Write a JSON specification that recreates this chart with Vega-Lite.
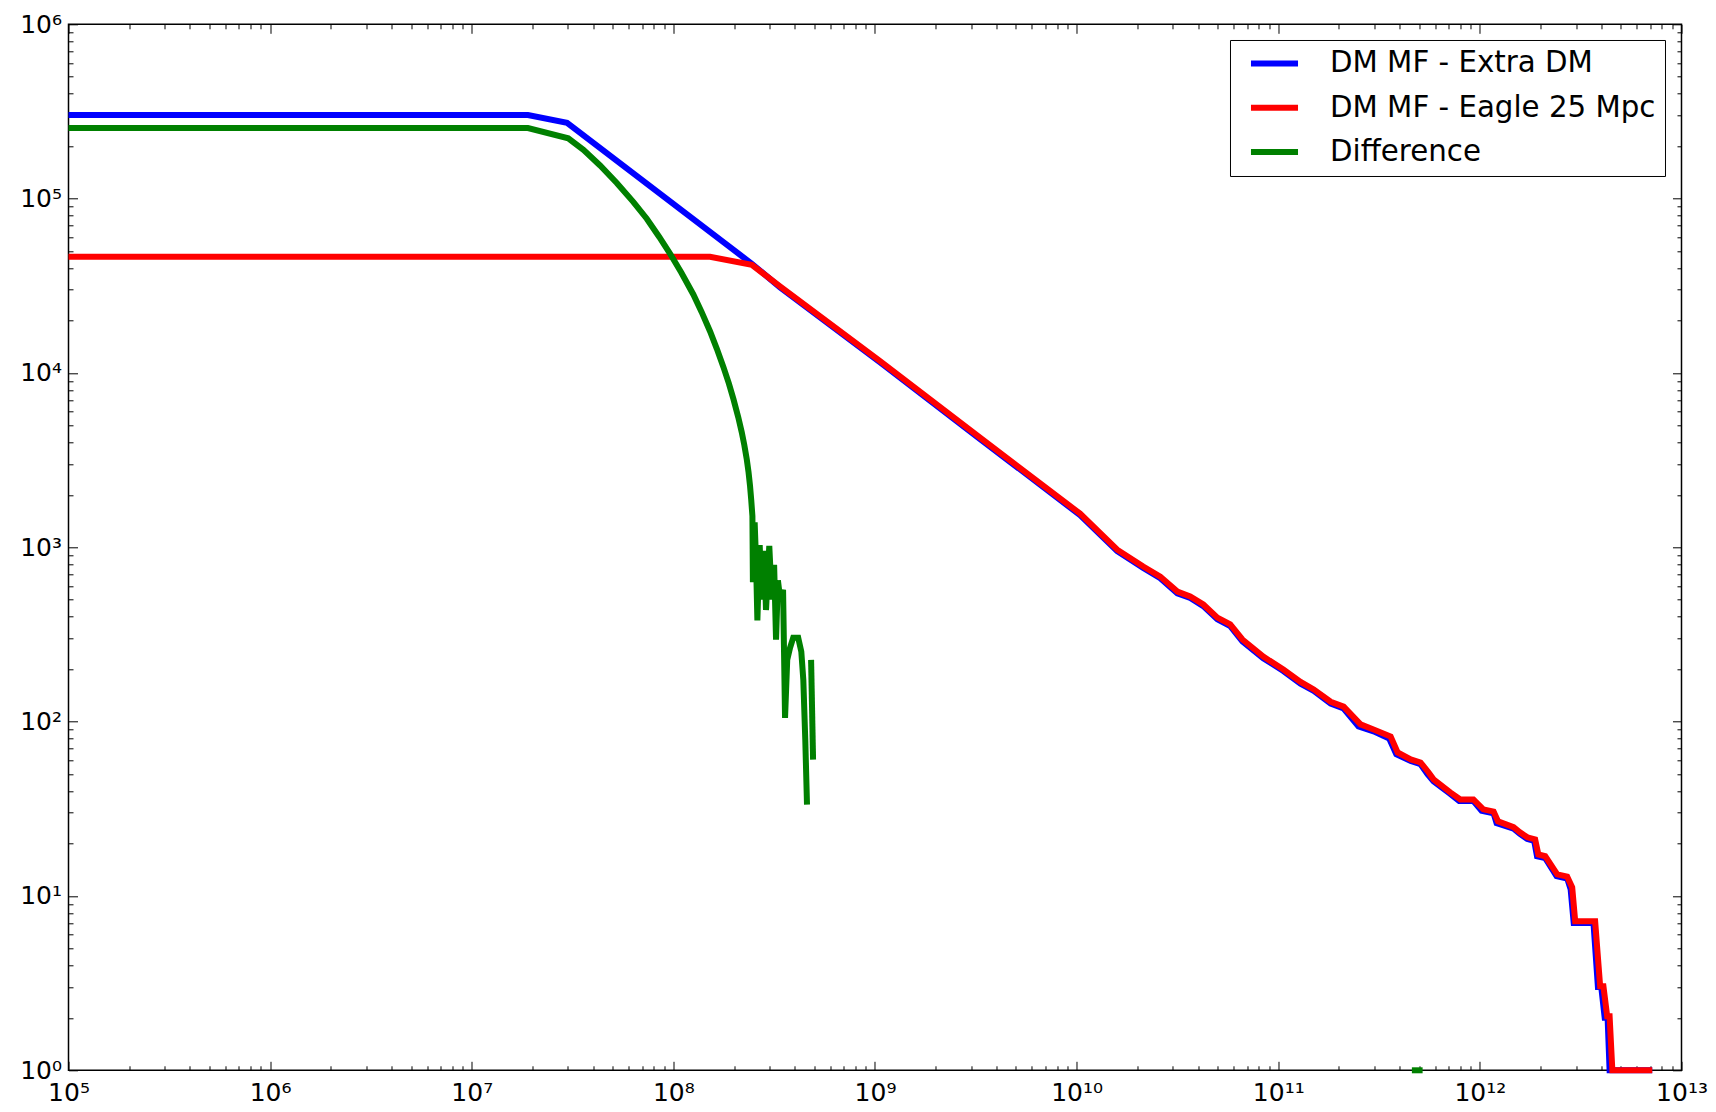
{
  "$schema": "https://vega.github.io/schema/vega-lite/v6.json",
  "width": 1613,
  "height": 1046,
  "autosize": {"type": "none"},
  "padding": {"left": 68.5, "top": 24.3, "right": 35, "bottom": 42},
  "background": "white",
  "config": {
    "view": {"stroke": "black", "strokeWidth": 1.5},
    "font": "DejaVu Sans",
    "axis": {"domain": false, "grid": false, "tickColor": "black", "tickWidth": 1, "labelColor": "black", "labelFont": "DejaVu Sans", "labelFontSize": 25, "title": null, "labelOverlap": false, "labelFlush": false, "labelBound": false}
  },
  "datasets": {
    "blue": [
      {"x": 1e5, "y": 302000, "series": "DM MF - Extra DM"},
      {"x": 1.9e7, "y": 302000, "series": "DM MF - Extra DM"},
      {"x": 2.97e7, "y": 272000, "series": "DM MF - Extra DM"},
      {"x": 2.45e8, "y": 42300, "series": "DM MF - Extra DM"},
      {"x": 3.38e8, "y": 31000, "series": "DM MF - Extra DM"},
      {"x": 1.06e9, "y": 11500, "series": "DM MF - Extra DM"},
      {"x": 3.32e9, "y": 4180, "series": "DM MF - Extra DM"},
      {"x": 1.04e10, "y": 1530, "series": "DM MF - Extra DM"},
      {"x": 1.59e10, "y": 950, "series": "DM MF - Extra DM"},
      {"x": 2.14e10, "y": 762, "series": "DM MF - Extra DM"},
      {"x": 2.6e10, "y": 665, "series": "DM MF - Extra DM"},
      {"x": 3.16e10, "y": 545, "series": "DM MF - Extra DM"},
      {"x": 3.66e10, "y": 512, "series": "DM MF - Extra DM"},
      {"x": 4.25e10, "y": 460, "series": "DM MF - Extra DM"},
      {"x": 4.99e10, "y": 386, "series": "DM MF - Extra DM"},
      {"x": 5.78e10, "y": 353, "series": "DM MF - Extra DM"},
      {"x": 6.64e10, "y": 289, "series": "DM MF - Extra DM"},
      {"x": 8.43e10, "y": 231, "series": "DM MF - Extra DM"},
      {"x": 1.06e11, "y": 195, "series": "DM MF - Extra DM"},
      {"x": 1.29e11, "y": 165, "series": "DM MF - Extra DM"},
      {"x": 1.5e11, "y": 150, "series": "DM MF - Extra DM"},
      {"x": 1.82e11, "y": 127, "series": "DM MF - Extra DM"},
      {"x": 2.11e11, "y": 119, "series": "DM MF - Extra DM"},
      {"x": 2.5e11, "y": 94, "series": "DM MF - Extra DM"},
      {"x": 2.97e11, "y": 88, "series": "DM MF - Extra DM"},
      {"x": 3.55e11, "y": 80, "series": "DM MF - Extra DM"},
      {"x": 3.85e11, "y": 65, "series": "DM MF - Extra DM"},
      {"x": 4.54e11, "y": 59.5, "series": "DM MF - Extra DM"},
      {"x": 5.08e11, "y": 57, "series": "DM MF - Extra DM"},
      {"x": 5.5e11, "y": 50, "series": "DM MF - Extra DM"},
      {"x": 5.89e11, "y": 45.5, "series": "DM MF - Extra DM"},
      {"x": 7.13e11, "y": 38.5, "series": "DM MF - Extra DM"},
      {"x": 7.9e11, "y": 35, "series": "DM MF - Extra DM"},
      {"x": 9.29e11, "y": 35, "series": "DM MF - Extra DM"},
      {"x": 1.02e12, "y": 30.8, "series": "DM MF - Extra DM"},
      {"x": 1.17e12, "y": 29.8, "series": "DM MF - Extra DM"},
      {"x": 1.21e12, "y": 26.2, "series": "DM MF - Extra DM"},
      {"x": 1.47e12, "y": 24.3, "series": "DM MF - Extra DM"},
      {"x": 1.58e12, "y": 22.7, "series": "DM MF - Extra DM"},
      {"x": 1.72e12, "y": 21.2, "series": "DM MF - Extra DM"},
      {"x": 1.86e12, "y": 20.7, "series": "DM MF - Extra DM"},
      {"x": 1.92e12, "y": 16.9, "series": "DM MF - Extra DM"},
      {"x": 2.11e12, "y": 16.5, "series": "DM MF - Extra DM"},
      {"x": 2.4e12, "y": 13, "series": "DM MF - Extra DM"},
      {"x": 2.71e12, "y": 12.6, "series": "DM MF - Extra DM"},
      {"x": 2.82e12, "y": 10.9, "series": "DM MF - Extra DM"},
      {"x": 2.92e12, "y": 7.0, "series": "DM MF - Extra DM"},
      {"x": 3.66e12, "y": 7.0, "series": "DM MF - Extra DM"},
      {"x": 3.85e12, "y": 3.0, "series": "DM MF - Extra DM"},
      {"x": 4.0e12, "y": 3.0, "series": "DM MF - Extra DM"},
      {"x": 4.16e12, "y": 2.0, "series": "DM MF - Extra DM"},
      {"x": 4.3e12, "y": 2.0, "series": "DM MF - Extra DM"},
      {"x": 4.4e12, "y": 1, "series": "DM MF - Extra DM"},
      {"x": 7.16e12, "y": 1, "series": "DM MF - Extra DM"}
    ],
    "red": [
      {"x": 1e5, "y": 46400, "series": "DM MF - Eagle 25 Mpc"},
      {"x": 1.52e8, "y": 46400, "series": "DM MF - Eagle 25 Mpc"},
      {"x": 2.45e8, "y": 41700, "series": "DM MF - Eagle 25 Mpc"},
      {"x": 3.38e8, "y": 31400, "series": "DM MF - Eagle 25 Mpc"},
      {"x": 1.06e9, "y": 11700, "series": "DM MF - Eagle 25 Mpc"},
      {"x": 3.32e9, "y": 4260, "series": "DM MF - Eagle 25 Mpc"},
      {"x": 1.04e10, "y": 1560, "series": "DM MF - Eagle 25 Mpc"},
      {"x": 1.59e10, "y": 968, "series": "DM MF - Eagle 25 Mpc"},
      {"x": 2.14e10, "y": 776, "series": "DM MF - Eagle 25 Mpc"},
      {"x": 2.6e10, "y": 679, "series": "DM MF - Eagle 25 Mpc"},
      {"x": 3.16e10, "y": 557, "series": "DM MF - Eagle 25 Mpc"},
      {"x": 3.66e10, "y": 522, "series": "DM MF - Eagle 25 Mpc"},
      {"x": 4.25e10, "y": 470, "series": "DM MF - Eagle 25 Mpc"},
      {"x": 4.99e10, "y": 395, "series": "DM MF - Eagle 25 Mpc"},
      {"x": 5.78e10, "y": 361, "series": "DM MF - Eagle 25 Mpc"},
      {"x": 6.64e10, "y": 296, "series": "DM MF - Eagle 25 Mpc"},
      {"x": 8.43e10, "y": 236, "series": "DM MF - Eagle 25 Mpc"},
      {"x": 1.06e11, "y": 199, "series": "DM MF - Eagle 25 Mpc"},
      {"x": 1.29e11, "y": 169, "series": "DM MF - Eagle 25 Mpc"},
      {"x": 1.5e11, "y": 153, "series": "DM MF - Eagle 25 Mpc"},
      {"x": 1.82e11, "y": 130, "series": "DM MF - Eagle 25 Mpc"},
      {"x": 2.11e11, "y": 122, "series": "DM MF - Eagle 25 Mpc"},
      {"x": 2.56e11, "y": 96.4, "series": "DM MF - Eagle 25 Mpc"},
      {"x": 2.97e11, "y": 90.2, "series": "DM MF - Eagle 25 Mpc"},
      {"x": 3.61e11, "y": 82.2, "series": "DM MF - Eagle 25 Mpc"},
      {"x": 3.91e11, "y": 66.5, "series": "DM MF - Eagle 25 Mpc"},
      {"x": 4.54e11, "y": 60.7, "series": "DM MF - Eagle 25 Mpc"},
      {"x": 5.08e11, "y": 58.3, "series": "DM MF - Eagle 25 Mpc"},
      {"x": 5.57e11, "y": 51.1, "series": "DM MF - Eagle 25 Mpc"},
      {"x": 5.89e11, "y": 46.7, "series": "DM MF - Eagle 25 Mpc"},
      {"x": 7.13e11, "y": 39.3, "series": "DM MF - Eagle 25 Mpc"},
      {"x": 8.0e11, "y": 35.8, "series": "DM MF - Eagle 25 Mpc"},
      {"x": 9.29e11, "y": 35.8, "series": "DM MF - Eagle 25 Mpc"},
      {"x": 1.04e12, "y": 31.4, "series": "DM MF - Eagle 25 Mpc"},
      {"x": 1.17e12, "y": 30.5, "series": "DM MF - Eagle 25 Mpc"},
      {"x": 1.23e12, "y": 26.8, "series": "DM MF - Eagle 25 Mpc"},
      {"x": 1.47e12, "y": 24.8, "series": "DM MF - Eagle 25 Mpc"},
      {"x": 1.58e12, "y": 23.2, "series": "DM MF - Eagle 25 Mpc"},
      {"x": 1.72e12, "y": 21.7, "series": "DM MF - Eagle 25 Mpc"},
      {"x": 1.88e12, "y": 21.1, "series": "DM MF - Eagle 25 Mpc"},
      {"x": 1.95e12, "y": 17.3, "series": "DM MF - Eagle 25 Mpc"},
      {"x": 2.11e12, "y": 16.9, "series": "DM MF - Eagle 25 Mpc"},
      {"x": 2.42e12, "y": 13.3, "series": "DM MF - Eagle 25 Mpc"},
      {"x": 2.71e12, "y": 12.9, "series": "DM MF - Eagle 25 Mpc"},
      {"x": 2.87e12, "y": 11.2, "series": "DM MF - Eagle 25 Mpc"},
      {"x": 2.97e12, "y": 7.16, "series": "DM MF - Eagle 25 Mpc"},
      {"x": 3.73e12, "y": 7.16, "series": "DM MF - Eagle 25 Mpc"},
      {"x": 3.95e12, "y": 3.03, "series": "DM MF - Eagle 25 Mpc"},
      {"x": 4.1e12, "y": 3.03, "series": "DM MF - Eagle 25 Mpc"},
      {"x": 4.28e12, "y": 2.04, "series": "DM MF - Eagle 25 Mpc"},
      {"x": 4.4e12, "y": 2.04, "series": "DM MF - Eagle 25 Mpc"},
      {"x": 4.54e12, "y": 1, "series": "DM MF - Eagle 25 Mpc"},
      {"x": 7.16e12, "y": 1, "series": "DM MF - Eagle 25 Mpc"}
    ],
    "green": [
      {"x": 1e5, "y": 254000, "series": "Difference", "seg": 1},
      {"x": 1.9e7, "y": 254000, "series": "Difference", "seg": 1},
      {"x": 3.01e7, "y": 222000, "series": "Difference", "seg": 1},
      {"x": 3.58e7, "y": 190500, "series": "Difference", "seg": 1},
      {"x": 4.33e7, "y": 154900, "series": "Difference", "seg": 1},
      {"x": 5.24e7, "y": 123000, "series": "Difference", "seg": 1},
      {"x": 6.34e7, "y": 95500, "series": "Difference", "seg": 1},
      {"x": 7.38e7, "y": 76700, "series": "Difference", "seg": 1},
      {"x": 8.51e7, "y": 60300, "series": "Difference", "seg": 1},
      {"x": 9.62e7, "y": 48400, "series": "Difference", "seg": 1},
      {"x": 1.096e8, "y": 37600, "series": "Difference", "seg": 1},
      {"x": 1.256e8, "y": 28200, "series": "Difference", "seg": 1},
      {"x": 1.38e8, "y": 22400, "series": "Difference", "seg": 1},
      {"x": 1.521e8, "y": 17300, "series": "Difference", "seg": 1},
      {"x": 1.641e8, "y": 13800, "series": "Difference", "seg": 1},
      {"x": 1.77e8, "y": 10840, "series": "Difference", "seg": 1},
      {"x": 1.884e8, "y": 8710, "series": "Difference", "seg": 1},
      {"x": 1.986e8, "y": 7080, "series": "Difference", "seg": 1},
      {"x": 2.099e8, "y": 5560, "series": "Difference", "seg": 1},
      {"x": 2.183e8, "y": 4570, "series": "Difference", "seg": 1},
      {"x": 2.249e8, "y": 3850, "series": "Difference", "seg": 1},
      {"x": 2.312e8, "y": 3200, "series": "Difference", "seg": 1},
      {"x": 2.36e8, "y": 2690, "series": "Difference", "seg": 1},
      {"x": 2.399e8, "y": 2260, "series": "Difference", "seg": 1},
      {"x": 2.432e8, "y": 1880, "series": "Difference", "seg": 1},
      {"x": 2.466e8, "y": 1510, "series": "Difference", "seg": 1},
      {"x": 2.48e8, "y": 631, "series": "Difference", "seg": 1},
      {"x": 2.53e8, "y": 1390, "series": "Difference", "seg": 1},
      {"x": 2.57e8, "y": 843, "series": "Difference", "seg": 1},
      {"x": 2.61e8, "y": 381, "series": "Difference", "seg": 1},
      {"x": 2.68e8, "y": 1030, "series": "Difference", "seg": 1},
      {"x": 2.74e8, "y": 501, "series": "Difference", "seg": 1},
      {"x": 2.82e8, "y": 955, "series": "Difference", "seg": 1},
      {"x": 2.88e8, "y": 437, "series": "Difference", "seg": 1},
      {"x": 2.99e8, "y": 1020, "series": "Difference", "seg": 1},
      {"x": 3.08e8, "y": 501, "series": "Difference", "seg": 1},
      {"x": 3.16e8, "y": 794, "series": "Difference", "seg": 1},
      {"x": 3.23e8, "y": 295, "series": "Difference", "seg": 1},
      {"x": 3.3e8, "y": 646, "series": "Difference", "seg": 1},
      {"x": 3.39e8, "y": 501, "series": "Difference", "seg": 1},
      {"x": 3.5e8, "y": 571, "series": "Difference", "seg": 1},
      {"x": 3.58e8, "y": 105, "series": "Difference", "seg": 1},
      {"x": 3.67e8, "y": 226, "series": "Difference", "seg": 1},
      {"x": 3.79e8, "y": 265, "series": "Difference", "seg": 1},
      {"x": 3.93e8, "y": 303, "series": "Difference", "seg": 1},
      {"x": 4.16e8, "y": 303, "series": "Difference", "seg": 1},
      {"x": 4.31e8, "y": 252, "series": "Difference", "seg": 1},
      {"x": 4.41e8, "y": 174, "series": "Difference", "seg": 1},
      {"x": 4.51e8, "y": 79, "series": "Difference", "seg": 1},
      {"x": 4.6e8, "y": 33.4, "series": "Difference", "seg": 1},
      {"x": 4.82e8, "y": 226, "series": "Difference", "seg": 2},
      {"x": 4.93e8, "y": 60.5, "series": "Difference", "seg": 2},
      {"x": 4.6e11, "y": 1, "series": "Difference", "seg": 3},
      {"x": 5.2e11, "y": 1, "series": "Difference", "seg": 3}
    ]
  },
  "resolve": {"axis": {"x": "independent", "y": "independent"}},
  "layer": [
    {
      "data": {"name": "blue"},
      "mark": {"type": "line", "strokeWidth": 6, "clip": false},
      "encoding": {
        "x": {"field": "x", "type": "quantitative", "scale": {"type": "log", "domain": [1e5, 1e13], "nice": false},
          "axis": {"orient": "bottom",
            "values": [1e5,2e5,3e5,4e5,5e5,6e5,7e5,8e5,9e5,1e6,2e6,3e6,4e6,5e6,6e6,7e6,8e6,9e6,1e7,2e7,3e7,4e7,5e7,6e7,7e7,8e7,9e7,1e8,2e8,3e8,4e8,5e8,6e8,7e8,8e8,9e8,1e9,2e9,3e9,4e9,5e9,6e9,7e9,8e9,9e9,1e10,2e10,3e10,4e10,5e10,6e10,7e10,8e10,9e10,1e11,2e11,3e11,4e11,5e11,6e11,7e11,8e11,9e11,1e12,2e12,3e12,4e12,5e12,6e12,7e12,8e12,9e12,1e13],
            "tickSize": {"condition": {"test": "abs(log(datum.value)/LN10-round(log(datum.value)/LN10))<0.001", "value": -9}, "value": -4.5},
            "labelExpr": "abs(log(datum.value)/LN10-round(log(datum.value)/LN10))<0.001 ? '10' + ['⁰','¹','²','³','⁴','⁵','⁶','⁷','⁸','⁹','¹⁰','¹¹','¹²','¹³'][round(log(datum.value)/LN10)] : ''",
            "labelFontSize": 25,
            "labelPadding": 19}},
        "y": {"field": "y", "type": "quantitative", "scale": {"type": "log", "domain": [1, 1e6], "nice": false},
          "axis": {"orient": "left",
            "values": [1,2,3,4,5,6,7,8,9,10,20,30,40,50,60,70,80,90,100,200,300,400,500,600,700,800,900,1000,2000,3000,4000,5000,6000,7000,8000,9000,1e4,2e4,3e4,4e4,5e4,6e4,7e4,8e4,9e4,1e5,2e5,3e5,4e5,5e5,6e5,7e5,8e5,9e5,1e6],
            "tickSize": {"condition": {"test": "abs(log(datum.value)/LN10-round(log(datum.value)/LN10))<0.001", "value": -9}, "value": -4.5},
            "labelExpr": "abs(log(datum.value)/LN10-round(log(datum.value)/LN10))<0.001 ? '10' + ['⁰','¹','²','³','⁴','⁵','⁶','⁷','⁸','⁹','¹⁰','¹¹','¹²','¹³'][round(log(datum.value)/LN10)] : ''",
            "labelFontSize": 25,
            "labelPadding": 16}},
        "color": {"field": "series", "type": "nominal",
          "scale": {"domain": ["DM MF - Extra DM", "DM MF - Eagle 25 Mpc", "Difference"], "range": ["#0000ff", "#ff0000", "#008000"]},
          "legend": {"orient": "none", "legendX": 1161.5, "legendY": 15.7, "title": null, "strokeColor": "black", "fillColor": "white", "padding": 8.5, "symbolType": "M-0.21,0H3.71", "symbolStrokeWidth": 6, "symbolSize": 576, "labelFontSize": 29.3, "labelFont": "DejaVu Sans", "labelColor": "black", "labelOffset": 61.5, "rowPadding": 13.3, "labelLimit": 0}}
      }
    },
    {
      "data": {"name": "red"},
      "mark": {"type": "line", "strokeWidth": 6, "clip": false},
      "encoding": {
        "x": {"field": "x", "type": "quantitative", "scale": {"type": "log", "domain": [1e5, 1e13], "nice": false},
          "axis": {"orient": "top", "labels": false,
            "values": [1e5,2e5,3e5,4e5,5e5,6e5,7e5,8e5,9e5,1e6,2e6,3e6,4e6,5e6,6e6,7e6,8e6,9e6,1e7,2e7,3e7,4e7,5e7,6e7,7e7,8e7,9e7,1e8,2e8,3e8,4e8,5e8,6e8,7e8,8e8,9e8,1e9,2e9,3e9,4e9,5e9,6e9,7e9,8e9,9e9,1e10,2e10,3e10,4e10,5e10,6e10,7e10,8e10,9e10,1e11,2e11,3e11,4e11,5e11,6e11,7e11,8e11,9e11,1e12,2e12,3e12,4e12,5e12,6e12,7e12,8e12,9e12,1e13],
            "tickSize": {"condition": {"test": "abs(log(datum.value)/LN10-round(log(datum.value)/LN10))<0.001", "value": -9}, "value": -4.5}}},
        "y": {"field": "y", "type": "quantitative", "scale": {"type": "log", "domain": [1, 1e6], "nice": false},
          "axis": {"orient": "right", "labels": false,
            "values": [1,2,3,4,5,6,7,8,9,10,20,30,40,50,60,70,80,90,100,200,300,400,500,600,700,800,900,1000,2000,3000,4000,5000,6000,7000,8000,9000,1e4,2e4,3e4,4e4,5e4,6e4,7e4,8e4,9e4,1e5,2e5,3e5,4e5,5e5,6e5,7e5,8e5,9e5,1e6],
            "tickSize": {"condition": {"test": "abs(log(datum.value)/LN10-round(log(datum.value)/LN10))<0.001", "value": -9}, "value": -4.5}}},
        "color": {"field": "series", "type": "nominal",
          "scale": {"domain": ["DM MF - Extra DM", "DM MF - Eagle 25 Mpc", "Difference"], "range": ["#0000ff", "#ff0000", "#008000"]}}
      }
    },
    {
      "data": {"name": "green"},
      "mark": {"type": "line", "strokeWidth": 6, "clip": false},
      "encoding": {
        "x": {"field": "x", "type": "quantitative", "scale": {"type": "log", "domain": [1e5, 1e13], "nice": false}, "axis": null},
        "y": {"field": "y", "type": "quantitative", "scale": {"type": "log", "domain": [1, 1e6], "nice": false}, "axis": null},
        "detail": {"field": "seg", "type": "nominal"},
        "color": {"field": "series", "type": "nominal",
          "scale": {"domain": ["DM MF - Extra DM", "DM MF - Eagle 25 Mpc", "Difference"], "range": ["#0000ff", "#ff0000", "#008000"]}}
      }
    }
  ]
}
